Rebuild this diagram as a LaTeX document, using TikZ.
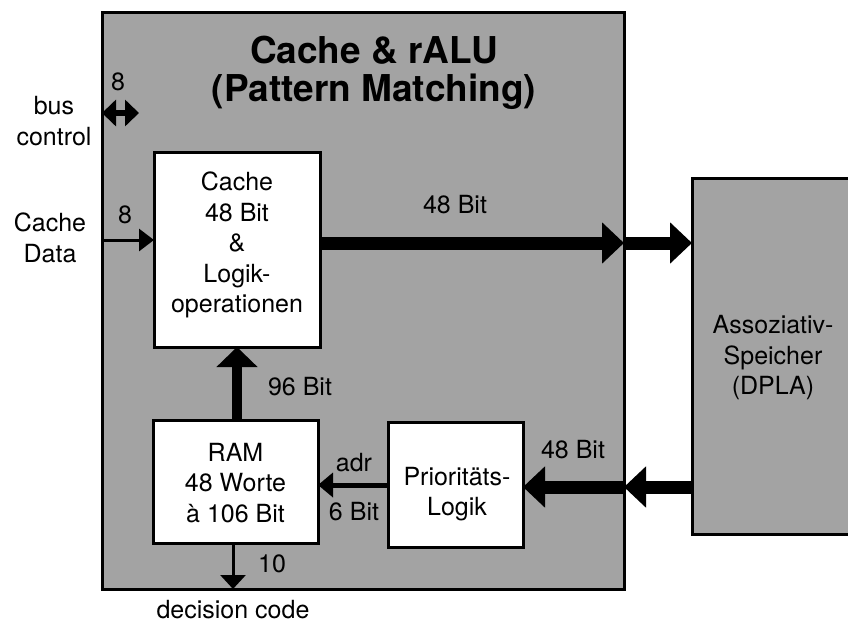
\documentclass[tikz,border=0pt]{standalone}
\usepackage{fontspec}
\setmainfont{TeX Gyre Heros}
\usetikzlibrary{arrows.meta}
\begin{document}
\begin{tikzpicture}[x=1pt,y=-1pt,
  shaded/.style={draw=black,line width=3pt,fill=black!36},
  blockbox/.style={draw=black,line width=3pt,fill=white},
  lbl/.style={font=\fontsize{25}{30.5}\selectfont,inner sep=0pt,align=center},
  titlefont/.style={font=\fontsize{37}{38}\selectfont\bfseries,inner sep=0pt,align=center},
  fatarrow/.style={line width=13pt,-{Triangle[length=22pt,width=40pt]}},
  midarrow/.style={line width=10pt,-{Triangle[length=20pt,width=40pt]}},
  thinarrow/.style={line width=3pt,-{Triangle[length=15pt,width=22pt]}},
  adrarrow/.style={line width=5pt,-{Triangle[length=15pt,width=24pt]}}
]
\useasboundingbox (0,0) rectangle (848,627);
% boxes
\draw[shaded] (102,12) rectangle (624,589);
\draw[shaded] (692,178) rectangle (870,534);
\node[blockbox,minimum width=166pt,minimum height=195pt,inner sep=0pt] (cache) at (237,249.5) {};
\node[blockbox,minimum width=165pt,minimum height=123pt,inner sep=0pt] (ram) at (235.5,481.5) {};
\node[blockbox,minimum width=135pt,minimum height=125pt,inner sep=0pt] (prio) at (455.5,484.5) {};
% texts
\node[titlefont] (title) at (374,73) {Cache \& rALU\\(Pattern Matching)};
\node[lbl] (cachetxt) at (237,245) {Cache\\48 Bit\\\&\\Logik-\\operationen};
\node[lbl] (ramtxt) at (235.5,483) {RAM\\48 Worte\\à 106 Bit};
\node[lbl] (priotxt) at (457,494) {Prioritäts-\\Logik};
\node[lbl] (dplatxt) at (773,358) {Assoziativ-\\Speicher\\(DPLA)};
\node[lbl] (buslbl) at (54,121) {bus\\control};
\node[lbl] (cdlbl) at (50,238) {Cache\\Data};
\node[lbl] (declbl) at (233,610) {decision code};
\node[lbl] (n8a) at (118,82) {8};
\node[lbl] (n8b) at (125,215) {8};
\node[lbl] (b48a) at (455,205) {48 Bit};
\node[lbl] (b96) at (300,387) {96 Bit};
\node[lbl] (adr) at (354,463) {adr};
\node[lbl] (b6) at (354,512) {6 Bit};
\node[lbl] (n10) at (272,564) {10};
\node[lbl] (b48b) at (573,450) {48 Bit};
% coordinates
\coordinate (busL) at (102,113);
\coordinate (busR) at (139,113);
\coordinate (cdL) at (102,240);
\coordinate (cdR) at (154,240);
\coordinate (upA) at (320,243);
\coordinate (upB) at (624,243);
\coordinate (upC) at (692,243);
\coordinate (loA) at (692,487);
\coordinate (loB) at (624,487);
\coordinate (loC) at (523,487);
\coordinate (adrA) at (388,485);
\coordinate (adrB) at (318,485);
\coordinate (ramT) at (237,420);
\coordinate (cacheB) at (237,347);
\coordinate (decA) at (233,543);
\coordinate (decB) at (233,589);
% connectors
\draw[line width=6pt,{Triangle[length=14pt,width=26pt]}-{Triangle[length=14pt,width=26pt]}] (busL) -- (busR);
\draw[thinarrow] (cdL) -- (cdR);
\draw[fatarrow] (upA) -- (upB);
\draw[fatarrow] (upB) -- (upC);
\draw[fatarrow] (loA) -- (loB);
\draw[fatarrow] (loB) -- (loC);
\draw[midarrow] (ramT) -- (cacheB);
\draw[adrarrow] (adrA) -- (adrB);
\draw[thinarrow,-{Triangle[length=14pt,width=25pt]}] (decA) -- (decB);
\end{tikzpicture}
\end{document}
